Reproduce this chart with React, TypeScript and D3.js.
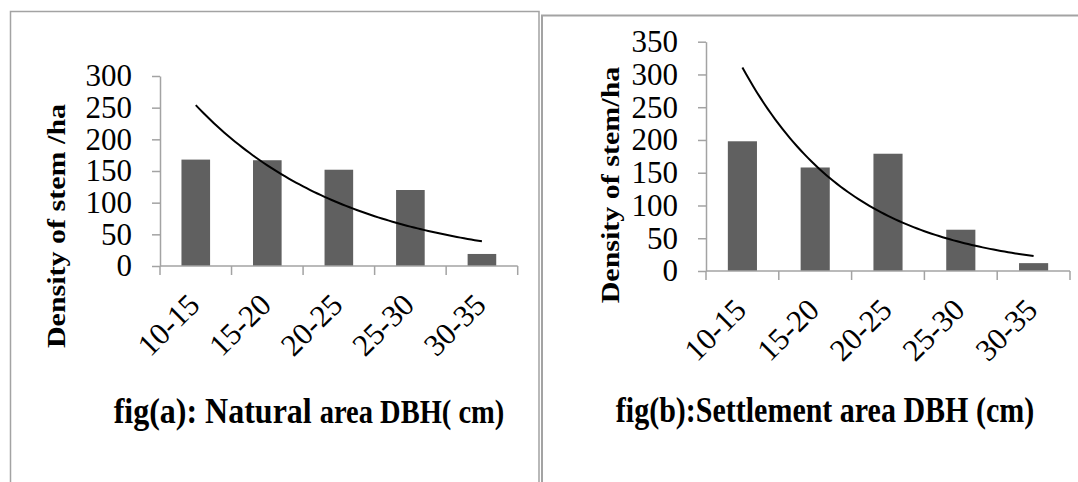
import React, { useEffect, useRef } from "react";
import { select, scaleBand, scaleLinear, axisLeft, line, range, mean } from "d3";

const categories = ["10-15", "15-20", "20-25", "25-30", "30-35"];
const naturalDensity = [168, 167, 152, 120, 19];
const settlementDensity = [198, 158, 179, 63, 12];
const naturalTicks = [0, 50, 100, 150, 200, 250, 300];
const settlementTicks = [0, 50, 100, 150, 200, 250, 300, 350];

const serif = "'Liberation Serif', 'Times New Roman', serif";
const gray = "#a3a3a3";
const barColor = "#606060";

// exponential trendline like Excel: least squares on ln(y), x = 1..n
const expFit = (values: number[]) => {
  const xs = values.map((_, i) => i + 1);
  const ls = values.map(v => Math.log(v));
  const mx = mean(xs) as number;
  const ml = mean(ls) as number;
  let num = 0, den = 0;
  xs.forEach((x, i) => {
    num += (x - mx) * (ls[i] - ml);
    den += (x - mx) * (x - mx);
  });
  const b = num / den;
  const a = Math.exp(ml - b * mx);
  return (x: number) => a * Math.exp(b * x);
};

type PanelProps = {
  values: number[];
  ticks: number[];
  left: number;
  right: number;
  top: number;
  bottom: number;
};

function Panel({ values, ticks, left, right, top, bottom }: PanelProps) {
  const gRef = useRef<SVGGElement>(null);

  useEffect(() => {
    const g = select(gRef.current);
    g.selectAll("*").remove();

    //scales
    const x = scaleBand().domain(categories).range([left, right]).paddingInner(0).paddingOuter(0);
    const y = scaleLinear().domain([0, ticks[ticks.length - 1]]).range([bottom, top]);
    const bw = x.bandwidth() * 0.4;

    //bars
    g.append("g")
      .selectAll("rect")
      .data(values)
      .join("rect")
      .attr("x", (d, i) => (x(categories[i]) as number) + x.bandwidth() / 2 - bw / 2)
      .attr("width", bw)
      .attr("y", d => y(d))
      .attr("height", d => y(0) - y(d))
      .attr("fill", barColor);

    //y axis
    const yAxis = axisLeft(y).tickValues(ticks).tickSize(8).tickSizeOuter(0).tickPadding(20).tickFormat(d => String(d));
    const ya = g.append("g").attr("transform", `translate(${left},0)`).call(yAxis);
    ya.select(".domain").attr("stroke", gray).attr("stroke-width", 1.5);
    ya.selectAll(".tick line").attr("stroke", gray).attr("stroke-width", 1.5);
    ya.selectAll(".tick text")
      .attr("font-family", serif)
      .attr("font-size", 31)
      .attr("fill", "#000");

    //x axis line + ticks at category boundaries
    g.append("line")
      .attr("x1", left).attr("x2", right)
      .attr("y1", y(0)).attr("y2", y(0))
      .attr("stroke", gray).attr("stroke-width", 1.5);
    const bounds = [...categories.map(c => x(c) as number), right];
    g.append("g")
      .selectAll("line")
      .data(bounds)
      .join("line")
      .attr("x1", d => d).attr("x2", d => d)
      .attr("y1", y(0)).attr("y2", y(0) + 9)
      .attr("stroke", gray).attr("stroke-width", 1.5);

    //rotated category labels
    g.append("g")
      .selectAll("text")
      .data(categories)
      .join("text")
      .attr("transform", d => `translate(${(x(d) as number) + x.bandwidth() / 2 - 2},${y(0) + 33}) rotate(-45)`)
      .attr("text-anchor", "end")
      .attr("dy", "0.35em")
      .attr("font-family", serif)
      .attr("font-size", 31)
      .text(d => d);

    //trendline
    const f = expFit(values);
    const xc = (v: number) => left + (v - 0.5) * x.bandwidth();
    const pts = range(1, 5.001, 0.05);
    g.append("path")
      .attr("d", line<number>().x(v => xc(v)).y(v => y(f(v)))(pts))
      .attr("fill", "none")
      .attr("stroke", "#000")
      .attr("stroke-width", 2);
  }, [values, ticks, left, right, top, bottom]);

  return <g ref={gRef} />;
}

export default function App() {
  return (
    <svg width={1078} height={482} style={{ position: "absolute", left: 0, top: 0, background: "#fff" }}>
      {/* frames */}
      <path d="M10.5,482 L10.5,11.5 L539,11.5 L539,482" fill="none" stroke={gray} strokeWidth={1.5} />
      <path d="M542,482 L542,15.5 L1078,15.5" fill="none" stroke={gray} strokeWidth={2} />

      <Panel values={naturalDensity} ticks={naturalTicks} left={160} right={517.7} top={76} bottom={266} />
      <Panel values={settlementDensity} ticks={settlementTicks} left={706} right={1070} top={41.7} bottom={271} />

      {/* axis titles */}
      <text transform="translate(65,226) scale(1,1.2) rotate(-90)" textAnchor="middle"
        fontFamily={serif} fontWeight="bold" fontSize={25}>Density of stem /ha</text>
      <text transform="translate(619,185) scale(1,1.2) rotate(-90)" textAnchor="middle"
        fontFamily={serif} fontWeight="bold" fontSize={25}>Density of stem/ha</text>

      {/* captions */}
      <text transform="translate(309,423) scale(1,1.15)" textAnchor="middle" fontFamily={serif} fontWeight="bold">
        <tspan fontSize={32}>fig(a): Natural </tspan>
        <tspan fontSize={28.5}>area DBH( cm)</tspan>
      </text>
      <text transform="translate(825,422) scale(1,1.2)" textAnchor="middle" fontFamily={serif} fontWeight="bold">
        <tspan fontSize={30}>fig(b):Settlement area DBH (cm)</tspan>
      </text>
    </svg>
  );
}
